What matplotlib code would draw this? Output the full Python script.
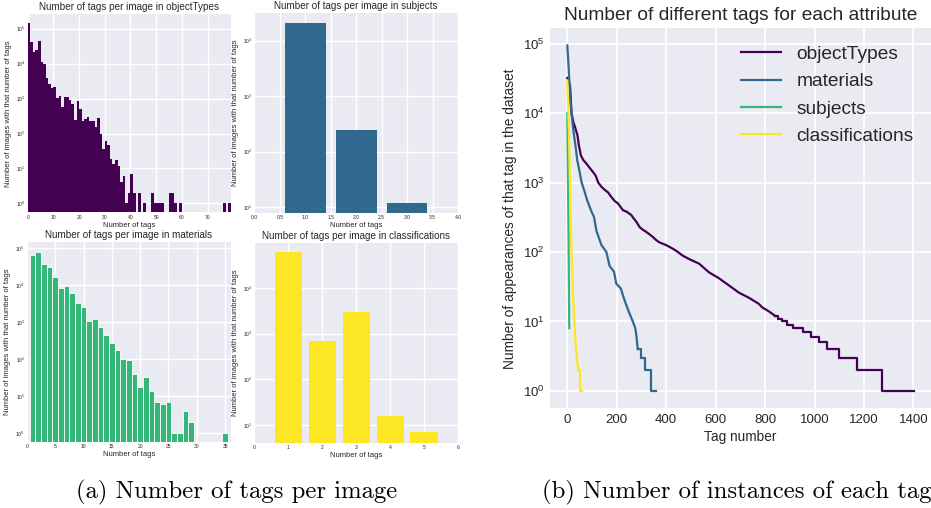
import numpy as np
import matplotlib
matplotlib.use('Agg')
import matplotlib.pyplot as plt
from matplotlib.ticker import LogLocator, MultipleLocator, FormatStrFormatter, NullLocator

# ---------------- data: tags per image ----------------
obj_ntags = list(range(0, 79))
obj_counts = [148000, 41700, 21900, 24500, 44700, 11200, 9800, 3900, 2630, 2040,
              2140, 1050, 1200, 590, 1120, 1120, 930, 710, 245, 870,
              510, 229, 263, 295, 229, 229, 155, 275, 98, 36,
              62, 47, 19, 13, 17, 12, 4, 6, 1, 2,
              7, 2, 0, 2, 0, 1, 0, 0, 2, 1,
              1, 1, 1, 0, 0, 2, 2, 1, 0, 1,
              0, 0, 0, 0, 0, 0, 0, 0, 0, 0,
              0, 0, 0, 0, 0, 0, 1, 0, 1]

subj_ntags = [1, 2, 3]
subj_counts = [21000, 240, 12]

mat_ntags = list(range(1, 36))
mat_counts = [63000, 76000, 36000, 30000, 16200, 8300, 9300, 6000, 3200, 2500,
              1050, 1200, 720, 450, 270, 174, 100, 93, 40, 18,
              33, 14, 7, 6, 7, 1, 1, 4, 2, 0,
              0, 0, 0, 0, 1]

cls_ntags = [1, 2, 3, 4, 5]
cls_counts = [60000, 700, 2900, 16, 7]

# ---------------- data: instances of each tag (sorted) ----------------
# high-count part (read as a continuous curve)
obj_tag_idx = [0, 5, 11, 17, 24, 31, 41, 47, 55, 65, 78, 92, 105, 115, 125, 138, 152,
               165, 178, 192, 205, 225, 240, 259, 265, 280, 292, 305, 319, 332, 345,
               358, 372, 385, 399, 420, 439, 466, 493, 533, 573, 613, 654, 694, 734,
               774, 788, 801, 815, 828, 841]
obj_tag_cnt = [32000, 29000, 25000, 10000, 7500, 6300, 4800, 3400, 2450, 2100, 1860,
               1600, 1400, 1250, 1000, 870, 780, 720, 620, 540, 500, 400, 380, 340,
               316, 270, 229, 210, 195, 180, 166, 150, 138, 132, 126, 115, 105, 89,
               79, 68, 51, 42, 33, 26, 22, 18, 16, 15, 14, 13, 12]
# low-count staircase: tag index where each count level starts
obj_step_idx = [841, 854, 870, 888, 915, 955, 986, 1019, 1049, 1100, 1173, 1274, 1401]
obj_step_cnt = [12, 11, 10, 9, 8, 7, 6, 5, 4, 3, 2, 1, 1]

mat_tag_idx = [0, 3, 7, 13, 18, 24, 34, 40, 47, 58, 71, 80, 98, 108, 118, 138, 158,
               171, 189, 198, 216, 232, 248, 265, 275, 280, 285]
mat_tag_cnt = [94000, 63000, 35000, 14500, 9000, 5800, 3200, 2100, 1600, 1000, 720,
               560, 380, 320, 200, 126, 100, 63, 52, 35, 30, 20, 14, 10, 8, 6, 4]
mat_step_idx = [285, 298, 316, 338, 359]
mat_step_cnt = [4, 3, 2, 1, 1]

subj_tag_idx = [0, 1, 2, 3, 4, 5, 6, 7, 8]
subj_tag_cnt = [10000, 5000, 2000, 900, 400, 150, 60, 20, 8]

cls_tag_idx = [0, 7, 11, 17, 24, 35, 44]
cls_tag_cnt = [29500, 5000, 870, 95, 20, 4, 2]
cls_step_idx = [44, 51, 58]
cls_step_cnt = [2, 1, 1]

C_PURPLE = '#440154'
C_BLUE = '#31688e'
C_GREEN = '#35b779'
C_YELLOW = '#fde725'

plt.rcParams.update({
    'font.family': ['Liberation Sans', 'DejaVu Sans'],
    'axes.facecolor': '#EAEAF2',
    'axes.edgecolor': 'white',
    'axes.linewidth': 0,
    'grid.color': 'white',
    'text.color': '.15',
    'axes.labelcolor': '.15',
    'xtick.color': '.15',
    'ytick.color': '.15',
    'xtick.major.size': 0,
    'ytick.major.size': 0,
    'xtick.minor.size': 0,
    'ytick.minor.size': 0,
    'legend.frameon': False,
})

W, H = 931, 508
fig = plt.figure(figsize=(W / 100, H / 100), dpi=100)


def rect(l, t, r, b):
    return [l / W, 1 - b / H, (r - l) / W, (b - t) / H]


def small(ax, title, xlim, ylim_exp, xstep, fmt=None):
    ax.set_yscale('log')
    ax.set_xlim(*xlim)
    ax.set_ylim(10 ** ylim_exp[0], 10 ** ylim_exp[1])
    ax.xaxis.set_major_locator(MultipleLocator(xstep))
    if fmt:
        ax.xaxis.set_major_formatter(FormatStrFormatter(fmt))
    ax.yaxis.set_major_locator(LogLocator(base=10, numticks=20))
    ax.yaxis.set_minor_locator(NullLocator())
    ax.grid(True, color='white', linewidth=1.0)
    ax.set_axisbelow(True)
    ax.tick_params(labelsize=3.6, pad=1.5)
    ax.set_title(title, fontsize=7.1, pad=3)
    ax.set_xlabel('Number of tags', fontsize=5.5, labelpad=1.5)
    ax.set_ylabel('Number of images with that number of tags', fontsize=5.5, labelpad=3)


ax1 = fig.add_axes(rect(27.7, 14, 230.7, 212.5))
ax1.bar(obj_ntags, obj_counts, width=1.0, align='edge', color=C_PURPLE, linewidth=0)
small(ax1, 'Number of tags per image in objectTypes', (0, 79), (-0.26, 5.42), 10)

ax2 = fig.add_axes(rect(254.3, 13.3, 458, 212.7))
ax2.bar(subj_ntags, subj_counts, width=0.8, color=C_BLUE, linewidth=0)
small(ax2, 'Number of tags per image in subjects', (0, 4), (0.90, 4.49), 0.5, '%.1f')

ax3 = fig.add_axes(rect(27, 242.3, 230.7, 441.7))
ax3.bar(mat_ntags, mat_counts, width=1.0, color=C_GREEN, edgecolor='white', linewidth=0.6)
small(ax3, 'Number of tags per image in materials', (0, 36), (-0.23, 5.15), 5)

ax4 = fig.add_axes(rect(254.3, 243.3, 458, 442.7))
ax4.bar(cls_ntags, cls_counts, width=0.8, color=C_YELLOW, linewidth=0)
small(ax4, 'Number of tags per image in classifications', (0, 6), (0.62, 4.97), 1)

# ---------------- right plot ----------------
ax5 = fig.add_axes(rect(550, 28.3, 930.7, 408.3))
LW = 1.6


def curve(xs, ys, sx, sy, color, label):
    ax5.plot(xs, ys, color=color, lw=LW, label=label, solid_joinstyle='miter')
    if sx:
        ax5.plot(sx, sy, drawstyle='steps-post', color=color, lw=LW)


curve(obj_tag_idx, obj_tag_cnt, obj_step_idx, obj_step_cnt, C_PURPLE, 'objectTypes')
curve(mat_tag_idx, mat_tag_cnt, mat_step_idx, mat_step_cnt, C_BLUE, 'materials')
curve(subj_tag_idx, subj_tag_cnt, None, None, C_GREEN, 'subjects')
curve(cls_tag_idx, cls_tag_cnt, cls_step_idx, cls_step_cnt, C_YELLOW, 'classifications')
ax5.set_yscale('log')
ax5.set_xlim(-70, 1470)
ax5.set_ylim(10 ** -0.25, 10 ** 5.22)
ax5.yaxis.set_major_locator(LogLocator(base=10, numticks=20))
ax5.yaxis.set_minor_locator(NullLocator())
ax5.xaxis.set_major_locator(MultipleLocator(200))
ax5.grid(True, color='white', linewidth=1.3)
ax5.set_axisbelow(True)
ax5.tick_params(labelsize=9.5, pad=4)
ax5.set_title('Number of different tags for each attribute', fontsize=13.8, pad=6)
ax5.set_xlabel('Tag number', fontsize=9.8, labelpad=3)
ax5.set_ylabel('Number of appearances of that tag in the dataset', fontsize=9.9, labelpad=4)
ax5.legend(loc='upper right', fontsize=13.8, handlelength=2.1, borderaxespad=0.5,
           labelspacing=0.52)

# ---------------- captions ----------------
fig.text(237 / W, 1 - 492 / H, '(a) Number of tags per image', family='cmr10',
         fontsize=17.8, ha='center', va='center', color='black')
fig.text(737 / W, 1 - 492 / H, '(b) Number of instances of each tag', family='cmr10',
         fontsize=17.8, ha='center', va='center', color='black')

fig.savefig('out.png', dpi=100)
